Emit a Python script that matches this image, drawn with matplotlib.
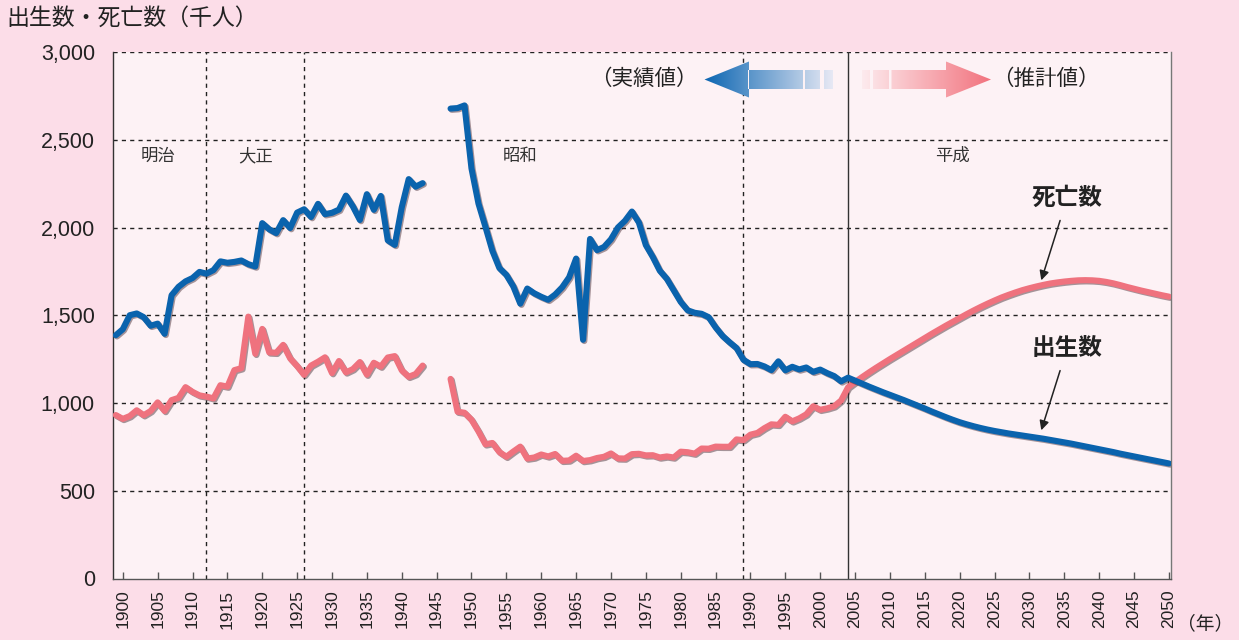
import numpy as np
import matplotlib
matplotlib.use("Agg")
from matplotlib import pyplot as plt
from matplotlib import patheffects as pe
from matplotlib.path import Path
from matplotlib.patches import PathPatch

plt.rcParams['font.family'] = ['Liberation Sans', 'Noto Sans CJK JP', 'DejaVu Sans']

# 実績値 (千人)
prewar_years = list(range(1899, 1944))
prewar_births = [1387, 1421, 1501, 1511, 1490, 1441, 1453, 1395, 1615, 1663,
                 1694, 1713, 1748, 1738, 1758, 1808, 1800, 1805, 1813, 1792,
                 1779, 2026, 1991, 1969, 2043, 1998, 2086, 2105, 2061, 2136,
                 2077, 2085, 2103, 2183, 2121, 2044, 2191, 2102, 2181, 1928,
                 1902, 2116, 2277, 2234, 2254]
prewar_deaths = [932, 910, 926, 959, 931, 955, 1004, 955, 1017, 1030,
                 1091, 1064, 1044, 1037, 1027, 1102, 1094, 1188, 1199, 1493,
                 1281, 1423, 1289, 1287, 1332, 1255, 1211, 1161, 1214, 1236,
                 1261, 1171, 1240, 1175, 1194, 1234, 1162, 1230, 1208, 1260,
                 1268, 1187, 1150, 1166, 1214]

postwar_years = list(range(1947, 2004))
postwar_births = [2679, 2682, 2697, 2338, 2138, 2005, 1868, 1770, 1731, 1665,
                  1567, 1653, 1626, 1606, 1589, 1619, 1660, 1717, 1824, 1361,
                  1936, 1872, 1890, 1934, 2001, 2039, 2092, 2030, 1901, 1833,
                  1755, 1709, 1643, 1577, 1529, 1515, 1509, 1490, 1432, 1383,
                  1347, 1314, 1247, 1222, 1223, 1209, 1188, 1238, 1187, 1207,
                  1192, 1203, 1178, 1191, 1171, 1154, 1124]
postwar_deaths = [1138, 951, 945, 905, 839, 765, 773, 721, 694, 724,
                  752, 684, 690, 707, 696, 710, 671, 673, 700, 670,
                  675, 687, 694, 713, 685, 684, 709, 711, 702, 703,
                  690, 696, 690, 723, 720, 712, 741, 740, 752, 751,
                  751, 793, 789, 820, 830, 857, 879, 876, 922, 896,
                  913, 936, 982, 962, 970, 982, 1015]

# 推計値 (千人)
proj_years = list(range(2004, 2051))
proj_births = [1145, 1128, 1111, 1094, 1078, 1062, 1047, 1032, 1017, 1001,
               985, 969, 952, 936, 920, 905, 891, 879, 868, 858,
               849, 841, 834, 827, 821, 815, 809, 803, 797, 790,
               783, 776, 769, 761, 753, 745, 737, 729, 721, 712,
               704, 696, 688, 680, 672, 664, 656]
proj_deaths = [1090, 1120, 1148, 1175, 1201, 1226, 1251, 1275, 1299, 1323,
               1347, 1371, 1395, 1418, 1441, 1463, 1485, 1507, 1528, 1548,
               1567, 1585, 1602, 1617, 1631, 1644, 1655, 1665, 1674, 1682,
               1688, 1693, 1697, 1700, 1701, 1700, 1697, 1691, 1683, 1673,
               1662, 1652, 1642, 1633, 1624, 1615, 1607]

era_names = ['明治', '大正', '昭和', '平成']
era_x = [1905, 1919, 1957, 2019]
era_bounds = [1912, 1926, 1989]
split_year = 2004

BLUE = '#0a63ad'
RED = '#ef727e'
OUTER = '#fcdde8'
INNER = '#fdf2f5'

fig = plt.figure(figsize=(12.39, 6.4), dpi=100, facecolor=OUTER)
ax = fig.add_axes([113 / 1239, 1 - 578.5 / 640, 1058 / 1239, 526.2 / 640])
ax.set_facecolor(INNER)

shadow = [pe.SimpleLineShadow(offset=(0.9, -0.9), shadow_color='#3b1f28', alpha=0.45),
          pe.Normal()]
lw = 4.4
ax.plot(prewar_years, prewar_deaths, color=RED, lw=lw, solid_capstyle='round',
        solid_joinstyle='round', path_effects=shadow, zorder=5)
ax.plot(postwar_years + proj_years, postwar_deaths + proj_deaths, color=RED, lw=lw,
        solid_capstyle='round', solid_joinstyle='round', path_effects=shadow, zorder=5)
ax.plot(prewar_years, prewar_births, color=BLUE, lw=lw, solid_capstyle='round',
        solid_joinstyle='round', path_effects=shadow, zorder=6)
ax.plot(postwar_years + proj_years, postwar_births + proj_births, color=BLUE, lw=lw,
        solid_capstyle='round', solid_joinstyle='round', path_effects=shadow, zorder=6)

ax.set_xlim(1898.6, 2050.3)
ax.set_ylim(0, 3000)

# grid
for yv in range(500, 3001, 500):
    ax.axhline(yv, color='#222222', lw=1.0, ls=(0, (3, 3)), zorder=1)
for xv in era_bounds:
    ax.axvline(xv, color='#222222', lw=1.0, ls=(0, (3, 3)), zorder=1)
ax.axvline(split_year, color='#333333', lw=1.0, zorder=1)

ax.spines['top'].set_visible(False)
ax.spines['left'].set_color('#333333')
ax.spines['bottom'].set_color('#555555')
ax.spines['right'].set_color('#777777')
for s in ax.spines.values():
    s.set_linewidth(1.0)

ax.set_yticks(range(0, 3001, 500))
ax.set_yticklabels([f'{v:,}' for v in range(0, 3001, 500)], fontsize=15.5, color='#222222')
ax.tick_params(axis='y', length=0, pad=13)
ax.set_xticks(range(1900, 2051, 5))
ax.set_xticklabels([str(v) for v in range(1900, 2051, 5)], rotation=90, fontsize=12.5,
                   color='#222222')
ax.tick_params(axis='x', direction='in', length=5, width=1, color='#555555', pad=8)

for name, xv in zip(era_names, era_x):
    ax.text(xv, 2410, name, ha='center', va='center', fontsize=12.5, color='#333333')

ax.annotate('死亡数', xy=(2031.7, 1700), xytext=(2035.4, 2168), ha='center', va='center',
            fontsize=17, fontweight='bold', color='#222222',
            arrowprops=dict(arrowstyle='-|>', color='#222222', lw=1.1,
                            shrinkA=6, shrinkB=0, mutation_scale=14))
ax.annotate('出生数', xy=(2031.7, 845), xytext=(2035.4, 1312), ha='center', va='center',
            fontsize=17, fontweight='bold', color='#222222',
            arrowprops=dict(arrowstyle='-|>', color='#222222', lw=1.1,
                            shrinkA=6, shrinkB=0, mutation_scale=14))

fig.text(6 / 1239, 1 - 18 / 640, '出生数・死亡数（千人）', fontsize=16.5, color='#222222',
         ha='left', va='center')
fig.text(1177 / 1239, 1 - 624 / 640, '（年）', fontsize=13.5, color='#222222',
         ha='left', va='center')

# gradient arrows in pixel coordinates
ov = fig.add_axes([0, 0, 1, 1], zorder=10)
ov.axis('off')
ov.patch.set_visible(False)


def rect(x0, x1, y0, y1):
    return Path([(x0, y0), (x1, y0), (x1, y1), (x0, y1), (x0, y0)],
                [Path.MOVETO, Path.LINETO, Path.LINETO, Path.LINETO, Path.CLOSEPOLY])


def gradient_arrow(x_start, x_end, c_start, c_end, pieces, head_x, tip_x):
    yc, hs, hh = 79.5, 9.5, 18
    polys = [rect(a, b, yc - hs, yc + hs) for a, b in pieces]
    head = Path([(head_x, yc - hh), (tip_x, yc), (head_x, yc + hh), (head_x, yc - hh)],
                [Path.MOVETO, Path.LINETO, Path.LINETO, Path.CLOSEPOLY])
    clip = Path.make_compound_path(*(polys + [head]))
    t = np.linspace(0, 1, 256)
    c0 = np.array(matplotlib.colors.to_rgb(c_start))
    c1 = np.array(matplotlib.colors.to_rgb(c_end))
    img = (c0[None, :] * (1 - t[:, None]) + c1[None, :] * t[:, None])[None, :, :]
    im = ov.imshow(img, extent=(x_start, x_end, yc + hh + 1, yc - hh - 1),
                   aspect='auto', interpolation='bilinear')
    patch = PathPatch(clip, facecolor='none', edgecolor='none')
    ov.add_patch(patch)
    im.set_clip_path(patch)


gradient_arrow(704, 834, '#0c66b2', '#e9eaf5',
               [(748, 803), (805, 820), (824, 833)], 749, 704.5)
gradient_arrow(862, 991, '#fdebee', '#f2737e',
               [(862, 870), (873, 889), (891.5, 946.5)], 946, 991)
ov.set_xlim(0, 1239)
ov.set_ylim(640, 0)

ov.text(698, 79.5, '（実績値）', fontsize=15.5, color='#222222', ha='right', va='center')
ov.text(992, 79.5, '（推計値）', fontsize=15.5, color='#222222', ha='left', va='center')

fig.savefig('out.png', dpi=100, facecolor=OUTER)
